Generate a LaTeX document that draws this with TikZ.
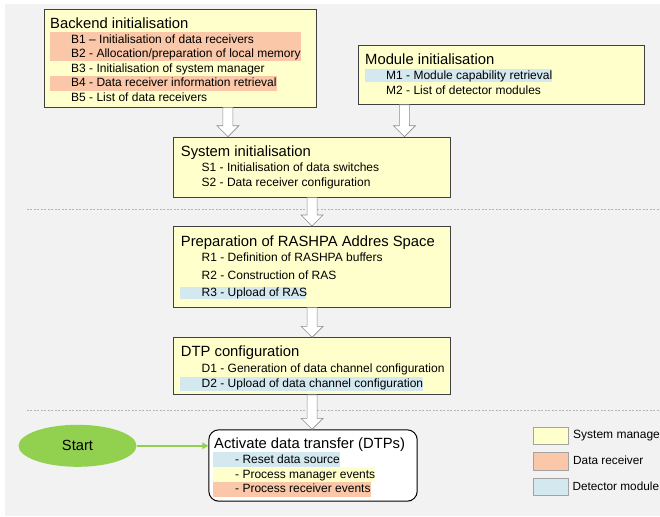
\documentclass[tikz,border=0pt]{standalone}
\usepackage{fontspec}
\setmainfont{Liberation Sans}
\usetikzlibrary{calc,arrows.meta,shapes.geometric}
\definecolor{bg}{HTML}{F2F2F2}
\definecolor{sysyel}{HTML}{FFFFCC}
\definecolor{recv}{HTML}{FAC8A8}
\definecolor{detm}{HTML}{D3E8EF}
\definecolor{bord}{HTML}{404040}
\definecolor{startg}{HTML}{92D050}
\definecolor{arrg}{HTML}{8C8C8C}
\definecolor{dashg}{HTML}{B4B4B4}
\begin{document}
\begin{tikzpicture}[x=1pt,y=-1pt,
  box/.style={draw=bord, line width=0.8pt, fill=sysyel, rectangle, inner sep=0pt, anchor=north west},
  ttl/.style={anchor=base west, inner sep=0pt, font=\fontsize{14.8}{16}\selectfont},
  itm/.style={anchor=base west, inner sep=0pt, font=\fontsize{12}{14}\selectfont},
  lgd/.style={draw=arrg!80, line width=0.6pt, rectangle, inner sep=0pt, anchor=north west, minimum width=34.4pt, minimum height=17.3pt},
  sep/.style={draw=dashg, line width=0.8pt, dash pattern=on 2pt off 1.5pt},
  hollow/.style={draw=arrg, fill=white, line width=0.6pt, line join=miter,
    to path={let \p1=(\tikztostart), \p2=(\tikztotarget) in
      (\x1-5pt,\y1) -- (\x1-5pt,\y2+11pt) -- (\x1-11pt,\y2+11pt) -- (\x1,\y2)
      -- (\x1+11pt,\y2+11pt) -- (\x1+5pt,\y2+11pt) -- (\x1+5pt,\y1) -- cycle}},
  greenarrow/.style={draw=startg, line width=1.5pt, -{Triangle[length=6pt,width=6.5pt]}}
]
\path[use as bounding box] (0,0) rectangle (660,516);
\clip (0,0) rectangle (660,516);
\fill[white] (0,0) rectangle (660,516);
\fill[bg] (5,4) rectangle (660,516);

% separators
\draw[sep] (26.7,209.3) -- (660,209.3);
\draw[sep] (26.7,410) -- (660,410);

% Backend initialisation
\node[box, minimum width=272.5pt, minimum height=97.5pt] (be) at (43.5,9) {};
\fill[recv] (50,32.3) rectangle (301,60.7);
\fill[recv] (50,76) rectangle (276.7,91);
\node[ttl] (bet) at (50,28.5) {Backend initialisation};
\node[itm] (b1) at (71,43.3) {B1 – Initialisation of data receivers};
\node[itm] (b2) at (71,57.7) {B2 - Allocation/preparation of local memory};
\node[itm] (b3) at (71,72.3) {B3 - Initialisation of system manager};
\node[itm] (b4) at (71,87) {B4 - Data receiver information retrieval};
\node[itm] (b5) at (71,101.7) {B5 - List of data receivers};

% Module initialisation
\node[box, minimum width=285.7pt, minimum height=59pt] (mod) at (358.3,45) {};
\fill[detm] (365,69.3) rectangle (551.7,82.3);
\node[ttl] (modt) at (365,65) {Module initialisation};
\node[itm] (m1) at (386,79.3) {M1 - Module capability retrieval};
\node[itm] (m2) at (386,94.3) {M2 - List of detector modules};

% System initialisation
\node[box, minimum width=276.7pt, minimum height=60pt] (sys) at (173.3,136.7) {};
\node[ttl] (syst) at (180.7,156) {System initialisation};
\node[itm] (s1) at (201.5,171.7) {S1 - Initialisation of data switches};
\node[itm] (s2) at (201.5,186) {S2 - Data receiver configuration};

% Preparation of RAS
\node[box, minimum width=276.7pt, minimum height=80.7pt] (prep) at (173.3,226) {};
\fill[detm] (180,286.7) rectangle (306,299.3);
\node[ttl] (prept) at (180.7,246) {Preparation of RASHPA Addres Space};
\node[itm] (r1) at (201.5,261.7) {R1 - Definition of RASHPA buffers};
\node[itm] (r2) at (201.5,279) {R2 - Construction of RAS};
\node[itm] (r3) at (201.5,296.7) {R3 - Upload of RAS};

% DTP configuration
\node[box, minimum width=276.7pt, minimum height=56.7pt] (dtp) at (173.3,337.3) {};
\fill[detm] (180,376.7) rectangle (422.7,390.7);
\node[ttl] (dtpt) at (180.7,356.7) {DTP configuration};
\node[itm] (d1) at (201.5,372.7) {D1 - Generation of data channel configuration};
\node[itm] (d2) at (201.5,387.3) {D2 - Upload of data channel configuration};

% Activate data transfer
\node[box, draw=black, fill=white, line width=1pt, rounded corners=10pt, minimum width=208.4pt, minimum height=71.4pt] (act) at (208.3,429.3) {};
\fill[detm] (213.3,452.3) rectangle (340,466.7);
\fill[sysyel] (213.3,466.7) rectangle (375,481.7);
\fill[recv] (213.3,481.7) rectangle (370.7,497.3);
\node[ttl] (actt) at (214,448.3) {Activate data transfer (DTPs)};
\node[itm] (a1) at (235,463.3) {- Reset data source};
\node[itm] (a2) at (235,478.3) {- Process manager events};
\node[itm] (a3) at (235,492.7) {- Process receiver events};

% Start
\node[ellipse, fill=startg, minimum width=118pt, minimum height=42pt, inner sep=0pt,
      font=\fontsize{14.7}{16}\selectfont] (start) at (77.5,445.8) {Start};

% connectors
\draw[hollow] ($(be.south)+(47.75,0)$) to (sys.north);
\draw[hollow] ($(mod.south)+(-97.15,0)$) to (sys.north);
\draw[hollow] (sys.south) to (prep.north);
\draw[hollow] (prep.south) to (dtp.north);
\draw[hollow] (dtp.south) to (act.north);
\draw[greenarrow] (start.east) -- (start.east -| act.west);

% legend
\node[lgd, fill=sysyel] (ly) at (533.3,426.7) {};
\node[lgd, fill=recv] (lr) at (533.3,452.3) {};
\node[lgd, fill=detm] (lb) at (533.3,477.7) {};
\node[itm] (lyt) at (573,438.3) {System manage};
\node[itm, font=\fontsize{11.8}{14}\selectfont] (lrt) at (573,464.3) {Data receiver};
\node[itm, font=\fontsize{11.8}{14}\selectfont] (lbt) at (572.3,490) {Detector module};
\end{tikzpicture}
\end{document}
